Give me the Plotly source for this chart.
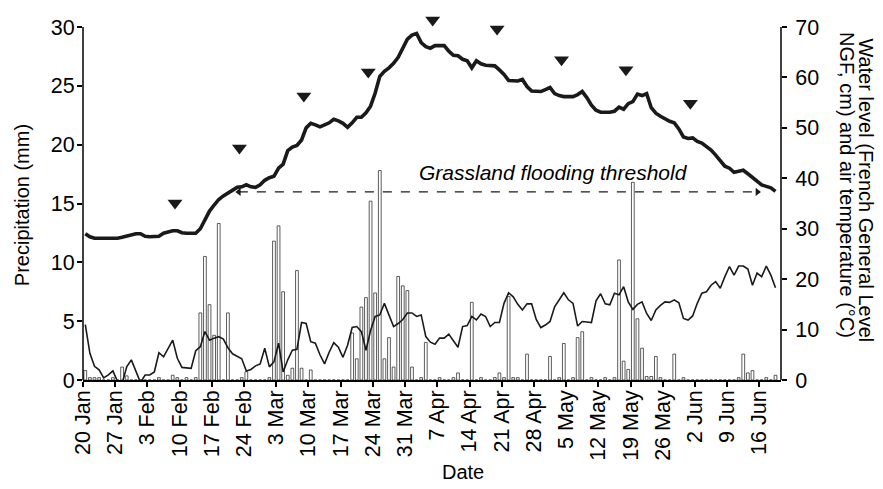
import pandas as pd
import plotly.graph_objects as go

START = "2011-01-20"

precip_mm = [
    0.8, 0.2, 0.2, 0.2, 0, 0, 0.2, 0, 1.1, 0.35,
    0, 0, 0, 0, 0, 0, 0.2, 0, 0, 0.4,
    0.2, 0, 0.2, 0, 0.2, 5.7, 10.5, 6.4, 3.8, 13.3,
    0, 5.7, 0, 0, 0.2, 0.7, 0, 0, 0, 0,
    0.2, 11.8, 13.1, 7.5, 0.4, 1.0, 9.3, 1.0, 0, 0.85,
    0, 0, 0, 0, 0, 0, 0, 0, 4.0, 1.8,
    6.2, 7.0, 15.2, 7.4, 17.8, 1.8, 3.6, 1.1, 8.8, 8.0,
    7.6, 1.1, 0, 0.2, 3.2, 0, 0, 0.2, 0, 0,
    0.2, 0.6, 0, 0, 6.6, 0, 0.2, 0, 0, 0.2,
    0.6, 0.2, 7.1, 0.2, 0.2, 0, 2.2, 0, 0, 0,
    0, 2.0, 0, 0.2, 3.1, 0, 0.2, 3.6, 4.1, 0,
    0.2, 0, 0, 0.2, 0, 0.2, 10.2, 1.6, 0.9, 16.8,
    5.2, 2.7, 0.3, 0.3, 2.0, 0.2, 0, 0, 2.2, 0,
    0.2, 0, 0, 0, 0, 0, 0, 0, 0, 0,
    0, 0, 0.2, 2.2, 0.6, 0.8, 0, 0, 0.2, 0,
    0.4,
]

water_level_cm = [
    29.0, 28.4, 28.1, 28.1, 28.1, 28.1, 28.1, 28.1, 28.3, 28.5,
    28.7, 29.0, 29.0, 28.5, 28.4, 28.4, 28.5, 29.1, 29.3, 29.6,
    29.6, 29.2, 29.1, 29.1, 29.1, 30.0, 31.8, 33.5, 34.7, 35.8,
    36.5, 37.1, 37.8, 38.2, 38.3, 38.7, 38.3, 38.2, 38.7, 39.6,
    40.1, 40.4, 42.0, 42.8, 45.5, 46.2, 46.5, 47.6, 50.0, 50.9,
    50.6, 50.2, 50.6, 51.0, 51.7, 51.4, 50.9, 50.1, 51.0, 52.1,
    52.1, 53.0, 54.3, 56.9, 60.2, 61.2, 61.9, 62.8, 64.0, 65.8,
    67.6, 68.4, 68.7, 66.9, 66.1, 65.8, 66.3, 66.3, 66.3, 65.2,
    64.4, 64.3, 63.6, 63.3, 61.9, 63.3, 62.7, 62.4, 62.3, 62.3,
    61.5, 60.6, 59.4, 59.3, 59.3, 59.6, 58.2, 57.3, 57.2, 57.2,
    57.6, 58.0, 56.8, 56.4, 56.2, 56.2, 56.2, 56.6, 57.2, 56.0,
    54.5, 53.5, 53.1, 53.1, 53.1, 53.3, 54.1, 53.7, 54.8, 55.2,
    56.7, 56.4, 56.8, 54.0, 52.9, 52.3, 51.7, 51.3, 51.0, 49.8,
    48.2, 47.9, 48.0, 47.3, 47.0, 46.4, 45.6, 44.6, 43.4, 42.4,
    42.0, 41.2, 41.4, 41.6, 40.9, 40.2, 39.3, 38.7, 38.4, 38.1,
    37.4,
]

air_temp_c = [
    11.0, 5.3, 2.7, 2.0, 0.4, 1.0, 1.8, -0.3, -0.7, 2.6,
    4.0, 1.6, -0.5, 1.0, 1.0, 1.6, 5.4, 4.6, 6.2, 7.9,
    4.3, 2.5, 2.4, 2.3, 5.8, 6.6, 9.6, 7.9, 8.3, 8.6,
    8.1, 6.4, 5.2, 4.7, 4.2, 1.8, 2.1, 2.8, 3.2, 6.3,
    2.6, 3.6, 7.3, 1.6, 4.0, 5.9, 6.1, 11.4, 11.2, 7.6,
    7.3, 5.0, 3.2, 5.5, 7.4, 6.5, 4.5, 6.9, 10.4, 10.6,
    9.6, 5.9, 9.8, 12.6, 12.9, 15.2, 12.8, 10.6, 11.2, 12.0,
    13.3, 13.3, 12.6, 12.9, 8.6, 7.5, 7.1, 8.3, 8.3, 9.1,
    7.8, 6.5, 10.6, 10.8, 12.6, 11.9, 13.1, 12.6, 10.6, 11.4,
    11.4, 15.2, 17.3, 16.5, 15.0, 13.9, 15.1, 15.1, 12.0, 10.4,
    10.9, 11.6, 14.5, 16.0, 17.3, 15.9, 15.2, 10.7, 11.6, 11.5,
    11.4, 15.7, 17.1, 15.1, 14.9, 17.2, 16.9, 18.5, 15.5, 14.0,
    15.0, 15.5, 13.2, 11.8, 13.9, 14.8, 15.5, 15.4, 15.9, 15.3,
    12.2, 11.9, 12.7, 15.2, 17.2, 17.5, 18.8, 19.5, 18.2, 20.5,
    22.5, 20.8, 22.6, 22.6, 22.0, 18.8, 21.2, 20.5, 22.6, 20.8,
    18.3,
]

sampling_dates = ["2011-02-09", "2011-02-23", "2011-03-09", "2011-03-23", "2011-04-06",
                  "2011-04-20", "2011-05-04", "2011-05-18", "2011-06-01"]
sampling_marker_level = [35.1, 46.0, 56.3, 61.1, 71.4, 69.6, 63.5, 61.5, 54.9]

threshold_level = 37.3
threshold_start = "2011-02-22 21:00"
threshold_end = "2011-06-15 14:00"

precip_axis_max = 30
level_axis_max = 70
# headroom above the top ticks so the sampling markers above 70 stay visible
headroom = 372 / 353

right_title_lines = ["Water level (French General Level", "NGF, cm) and air temperature (°C)"]

tick_dates = pd.date_range(START, "2011-06-16", freq="7D")

days = pd.date_range(pd.Timestamp(START) + pd.Timedelta(hours=12), periods=len(water_level_cm), freq="D")
bar_days = pd.date_range(pd.Timestamp(START) + pd.Timedelta(hours=12), periods=len(precip_mm), freq="D")

FONT = "Liberation Sans, Arial, Helvetica, sans-serif"

fig = go.Figure()
fig.add_trace(go.Bar(
    x=bar_days, y=precip_mm, yaxis="y",
    width=0.6 * 86400000,
    marker=dict(color="white", line=dict(color="#333333", width=0.8)),
    showlegend=False,
))
fig.add_trace(go.Scatter(
    x=days, y=air_temp_c, yaxis="y2", mode="lines",
    line=dict(color="#1a1a1a", width=1.6), showlegend=False,
))
fig.add_trace(go.Scatter(
    x=days, y=water_level_cm, yaxis="y2", mode="lines",
    line=dict(color="#1a1a1a", width=3.6), showlegend=False,
))
fig.add_trace(go.Scatter(
    x=pd.to_datetime(sampling_dates), y=sampling_marker_level, yaxis="y2", mode="markers",
    marker=dict(symbol="triangle-down", size=13, color="#1a1a1a"),
    cliponaxis=False, showlegend=False,
))
fig.add_shape(type="line", xref="x", yref="y2",
              x0=threshold_start, x1=threshold_end, y0=threshold_level, y1=threshold_level,
              line=dict(color="#1a1a1a", width=1.1, dash="dash"))
fig.add_trace(go.Scatter(
    x=[pd.Timestamp(threshold_start), pd.Timestamp(threshold_end)],
    y=[threshold_level, threshold_level], yaxis="y2", mode="markers",
    marker=dict(symbol=["triangle-left", "triangle-right"], size=7, color="#1a1a1a"),
    showlegend=False,
))

# vertical axis lines that stop at the top tick
fig.add_shape(type="line", xref="paper", yref="y", x0=0, x1=0, y0=0, y1=precip_axis_max,
              line=dict(color="black", width=1.5))
fig.add_shape(type="line", xref="paper", yref="y2", x0=1, x1=1, y0=0, y1=level_axis_max,
              line=dict(color="black", width=1.5))

fig.add_annotation(x=0.674, y=0.559, xref="paper", yref="paper", xanchor="center", yanchor="middle",
                   text="<i>Grassland flooding threshold</i>", showarrow=False,
                   font=dict(size=21, color="black", family=FONT))
fig.add_annotation(x=1.1225, y=0.511, xref="paper", yref="paper", xanchor="center", yanchor="middle",
                   text=right_title_lines[0], textangle=90, showarrow=False,
                   font=dict(size=20, color="black", family=FONT))
fig.add_annotation(x=1.0945, y=0.524, xref="paper", yref="paper", xanchor="center", yanchor="middle",
                   text=right_title_lines[1], textangle=90, showarrow=False,
                   font=dict(size=20, color="black", family=FONT))
fig.add_annotation(x=-0.0874, y=0.470, xref="paper", yref="paper", xanchor="center", yanchor="middle",
                   text="Precipitation (mm)", textangle=-90, showarrow=False,
                   font=dict(size=20, color="black", family=FONT))
fig.add_annotation(x=0.544, y=-0.247, xref="paper", yref="paper", xanchor="center", yanchor="middle",
                   text="Date", showarrow=False, font=dict(size=20, color="black", family=FONT))

axis_common = dict(linecolor="black", linewidth=1.5, ticks="outside",
                   ticklen=5, tickwidth=1.5, tickcolor="black", showgrid=False, zeroline=False,
                   automargin=False,
                   tickfont=dict(size=21.5, color="black", family=FONT))

fig.update_layout(
    width=883, height=489,
    margin=dict(l=83, r=102, t=8, b=109),
    paper_bgcolor="white", plot_bgcolor="white",
    font=dict(family=FONT, color="black"),
    showlegend=False,
    xaxis=dict(type="date", showline=True,
               range=[pd.Timestamp(START), pd.Timestamp(START) + pd.Timedelta(days=151.7)],
               tickvals=tick_dates, tickformat="%-d %b", tickangle=-90,
               ticklabelstandoff=-5, **axis_common),
    yaxis=dict(range=[0, precip_axis_max * headroom], tick0=0, dtick=5, showline=False,
               ticklabelstandoff=-2, **axis_common),
    yaxis2=dict(range=[0, level_axis_max * headroom], tick0=0, dtick=10, overlaying="y", side="right",
                showline=False, ticklabelstandoff=4, **axis_common),
)

fig.write_html("out.html", config={"displayModeBar": False},
               post_script="document.body.style.margin='0px';")
